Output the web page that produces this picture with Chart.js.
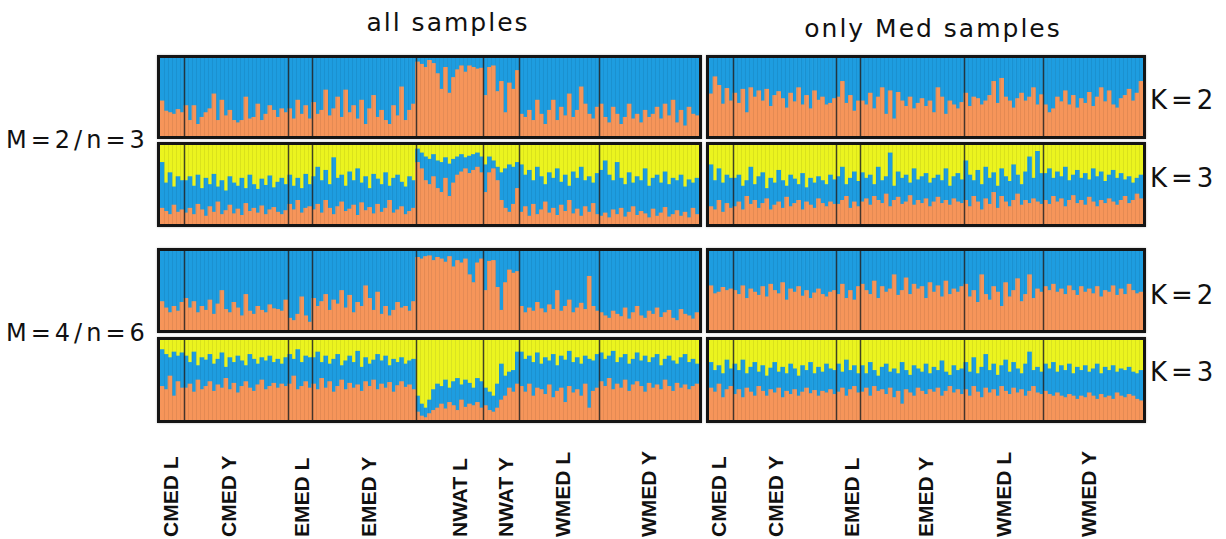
<!DOCTYPE html>
<html>
<head>
<meta charset="utf-8">
<script src="https://cdn.jsdelivr.net/npm/chart.js@4.4.0/dist/chart.umd.min.js"></script>
<style>
  body { margin: 0; background: #fff; width: 1226px; height: 539px; position: relative; overflow: hidden; font-family: "DejaVu Sans", sans-serif; color: #111; }
  .panel { position: absolute; border: 3px solid #151515; box-sizing: border-box; background: #fff; box-shadow: 0 0 2px #bbb; }
  .panel canvas { display: block; }
  .txt { position: absolute; white-space: nowrap; line-height: 1; transform: translate(0, -50%); }
  .title { font-size: 25px; letter-spacing: 2px; transform: translate(-50%, -50%); }
  .row { font-size: 24px; letter-spacing: 4px; }
  .k { font-size: 26px; letter-spacing: 4px; }
  .grp { position: absolute; font-family: "Liberation Sans", Arial, sans-serif; font-weight: bold; font-size: 21px; line-height: 21px; white-space: nowrap; transform-origin: 0 0; transform: rotate(-90deg); }
</style>
</head>
<body>
<script>
// population groups, in plotting order
const groupsAll = ['CMED L', 'CMED Y', 'EMED L', 'EMED Y', 'NWAT L', 'NWAT Y', 'WMED L', 'WMED Y'];
const groupSizesAll = [6, 26, 6, 26, 17, 9, 20, 25];
const groupsMed = ['CMED L', 'CMED Y', 'EMED L', 'EMED Y', 'WMED L', 'WMED Y'];
const groupSizesMed = [6, 26, 6, 26, 20, 25];

// ancestry proportions (%) per individual; yellow cluster = remainder
// M=2/n=3, all samples, K=2
const m2k2AllOrange = [
  45,32,30,28,34,30,
  39,20,39,15,24,30,35,54,20,46,26,33,20,17,20,50,22,24,41,20,28,39,33,24,35,30,
  35,22,46,28,39,22,
  43,28,33,59,26,35,50,24,59,30,39,22,46,15,35,52,24,33,20,15,39,26,63,20,33,41,
  95,92,88,97,93,80,60,88,55,75,85,90,82,90,88,86,87,
  52,88,90,57,70,30,68,60,84,
  28,24,33,20,46,28,15,33,46,20,37,26,54,24,33,63,41,28,22,37,
  41,24,17,37,28,15,24,41,22,28,17,33,24,28,37,22,41,26,46,17,33,13,37,28,26
];
// M=2/n=3, all samples, K=3
const m2k3AllOrange = [
  20,16,12,24,15,18,
  14,20,12,25,18,10,22,15,28,12,17,24,13,19,11,26,16,20,14,23,12,18,21,15,12,17,
  25,18,30,14,20,22,
  18,25,14,30,20,12,22,28,16,19,24,11,27,17,21,13,25,15,20,30,14,18,22,12,16,20,
  78,70,55,50,60,45,40,58,35,52,62,66,70,64,68,72,65,
  40,65,70,55,30,20,15,25,45,
  15,22,10,25,12,18,28,14,20,11,24,16,30,13,19,10,22,15,26,12,
  10,14,8,18,12,20,9,15,22,11,16,13,8,19,10,14,21,9,12,17,10,15,8,20,12
];
const m2k3AllBlue = [
  58,36,53,23,45,37,
  41,40,36,37,27,48,28,48,19,43,25,36,39,29,47,19,46,30,30,34,37,43,25,38,46,33,
  37,30,28,31,43,28,
  42,47,41,38,30,72,36,34,32,47,31,59,25,43,24,50,32,35,45,18,44,44,31,35,44,35,
  17,20,30,32,28,35,38,26,41,30,23,22,14,22,20,18,20,
  35,20,10,17,35,50,60,47,33,
  60,40,58,30,60,42,22,51,38,59,29,46,18,53,39,62,33,45,26,52,
  58,66,54,37,66,38,41,50,30,49,39,57,40,39,52,38,45,41,46,38,52,32,48,32,46
];
// M=4/n=6, all samples, K=2
const m4k2AllOrange = [
  36,28,22,30,24,35,
  40,28,36,22,30,25,38,20,33,50,26,22,35,28,18,45,24,20,30,25,22,32,27,26,24,38,
  15,12,20,42,18,10,
  40,30,36,45,25,38,33,50,28,44,22,35,30,56,40,25,48,20,30,18,25,35,28,30,24,36,
  92,90,93,94,88,92,90,86,93,80,88,85,90,70,60,85,90,
  50,87,88,54,25,60,76,72,74,
  30,22,28,24,35,27,22,32,26,50,24,30,38,22,28,34,26,68,30,24,
  22,18,15,24,20,17,28,14,22,30,18,15,24,20,28,16,22,25,15,12,26,20,18,14,22
];
// M=4/n=6, all samples, K=3
const m4k3AllOrange = [
  42,38,55,30,48,40,
  40,45,35,50,38,42,48,36,44,40,52,38,46,34,42,48,40,36,44,50,38,42,46,40,45,42,
  45,55,38,42,48,40,
  45,38,52,40,48,35,42,50,38,46,40,44,36,48,42,50,38,45,40,47,35,43,48,41,44,38,
  10,5,3,8,12,15,20,14,22,18,12,25,16,20,18,22,15,
  18,12,10,15,25,30,40,35,45,
  42,35,45,30,40,38,32,44,28,36,40,22,42,34,38,30,45,15,36,40,
  48,42,52,38,45,40,50,36,44,48,42,35,46,40,44,38,50,42,36,46,40,44,38,42,45
];
const m4k3AllBlue = [
  46,44,23,55,32,44,
  40,27,50,18,40,33,34,34,32,44,14,40,26,46,32,20,42,40,26,28,36,38,26,36,25,36,
  37,21,50,30,32,38,
  33,47,20,40,22,41,40,18,36,34,32,42,30,30,28,25,44,29,40,21,41,29,30,29,30,38,
  20,15,12,17,26,30,22,36,18,30,40,19,34,26,22,30,33,
  22,23,20,30,45,25,20,27,40,
  43,41,35,42,44,32,46,30,54,32,40,53,44,38,40,40,35,61,38,42,
  36,34,28,48,27,38,32,34,32,36,32,45,26,38,38,30,26,38,38,24,38,38,34,34,25
];

// M=2/n=3, only Med samples, K=2
const m2k2MedOrange = [
  54,76,65,41,61,45,
  55,42,60,30,62,50,58,45,60,38,52,57,48,36,55,44,62,40,52,35,58,46,50,40,42,48,
  50,70,42,52,32,45,
  45,40,55,35,50,62,28,58,22,56,45,38,50,35,42,48,38,45,30,62,50,28,45,40,35,43,
  55,38,50,48,40,45,52,70,42,74,50,45,36,48,55,45,50,62,40,53,
  40,30,35,50,44,58,40,52,36,48,42,56,38,50,62,44,58,40,36,48,52,60,45,55,70
];
// M=2/n=3, only Med samples, K=3
const m2k3MedOrange = [
  22,18,30,15,26,20,
  22,28,18,35,25,30,20,26,32,18,24,28,20,34,22,26,30,18,28,24,20,32,26,22,28,25,
  25,30,35,20,28,22,
  28,32,24,35,30,26,38,22,30,34,25,28,36,24,30,26,32,22,28,34,26,30,24,32,28,26,
  30,22,35,28,18,32,25,40,20,35,28,22,30,38,24,30,26,32,28,25,
  30,25,35,28,32,22,30,36,26,30,24,34,28,22,30,26,32,28,24,30,35,26,30,38,32
];
const m2k3MedBlue = [
  53,37,40,37,36,38,
  36,34,30,20,47,20,40,39,13,40,28,40,35,14,40,31,20,46,18,34,32,28,29,28,34,31,
  35,42,15,38,38,32,
  37,26,38,15,42,29,22,68,18,32,33,34,16,46,26,34,32,30,30,28,29,40,24,28,36,30,
  50,40,20,40,32,40,33,25,28,35,32,32,45,24,26,36,59,26,64,39,
  34,45,23,38,28,50,25,26,42,28,40,22,42,38,36,28,30,40,34,34,21,34,22,20,30
];
// M=4/n=6, only Med samples, K=2
const m4k2MedOrange = [
  56,46,48,54,50,52,
  50,45,56,40,52,48,44,55,42,58,50,46,60,38,52,48,55,43,50,40,47,52,45,42,48,50,
  45,58,40,50,38,55,
  58,50,45,62,40,55,48,52,70,44,50,66,45,58,52,55,40,60,48,56,42,62,45,52,48,55,
  58,42,50,35,70,45,38,55,48,30,60,42,50,65,36,45,70,40,52,48,
  55,50,58,48,52,45,56,50,44,55,48,52,46,55,42,50,48,56,44,52,45,58,50,46,48
];
// M=4/n=6, only Med samples, K=3
const m4k3MedOrange = [
  40,35,45,28,38,42,
  32,38,28,40,35,30,42,36,30,38,34,40,28,36,32,38,30,35,40,33,37,30,36,34,38,32,
  35,40,30,38,42,34,
  35,40,30,42,36,38,32,40,28,36,20,38,34,30,40,36,32,38,35,40,30,36,42,34,38,32,
  38,30,42,35,28,40,34,38,30,42,36,32,40,34,38,30,36,42,34,32,
  36,32,30,34,30,28,32,30,26,30,28,34,30,26,32,28,30,26,34,30,28,32,30,26,24
];
const m4k3MedBlue = [
  32,27,23,30,37,22,
  38,24,47,18,31,42,18,32,25,27,38,20,38,22,38,26,25,33,22,39,21,36,24,36,26,30,
  35,20,45,24,26,24,
  33,18,42,20,19,28,38,20,36,22,52,24,22,38,24,24,38,20,31,22,44,24,14,34,24,32,
  34,30,36,23,38,42,28,32,26,26,39,28,32,30,20,40,49,20,32,28,
  34,32,42,26,38,34,38,28,40,32,40,26,34,44,26,38,32,42,26,34,34,34,30,32,38
];

const ORANGE = '#F6955A';
const BLUE = '#1E9DE0';
const YELLOW = '#EBF41F';

// thin lines between individuals, darker ones between populations
const separators = {
  id: 'separators',
  afterDatasetsDraw(chart, args, opts) {
    const x = chart.scales.x;
    const { top, bottom } = chart.chartArea;
    const n = chart.data.labels.length;
    const bounds = new Set(opts.bounds || []);
    const ctx = chart.ctx;
    ctx.save();
    for (let i = 1; i < n; i++) {
      const px = Math.round((x.getPixelForValue(i - 1) + x.getPixelForValue(i)) / 2) + 0.5;
      ctx.beginPath();
      ctx.moveTo(px, top);
      ctx.lineTo(px, bottom);
      if (bounds.has(i)) {
        ctx.strokeStyle = 'rgba(35,35,35,0.85)';
        ctx.lineWidth = 1.5;
      } else {
        ctx.strokeStyle = 'rgba(0,0,0,0.07)';
        ctx.lineWidth = 1;
      }
      ctx.stroke();
    }
    ctx.restore();
  }
};

function boundaries(sizes) {
  const out = [];
  let sum = 0;
  sizes.slice(0, -1).forEach(s => { sum += s; out.push(sum); });
  return out;
}

function makePanel(left, top, width, height, sizes, orange, blue) {
  const div = document.createElement('div');
  div.className = 'panel';
  div.style.left = left + 'px';
  div.style.top = top + 'px';
  div.style.width = width + 'px';
  div.style.height = height + 'px';
  const canvas = document.createElement('canvas');
  canvas.width = width - 6;
  canvas.height = height - 6;
  div.appendChild(canvas);
  document.body.appendChild(div);

  const labels = orange.map((v, i) => i + 1);
  const datasets = [{ data: orange, backgroundColor: ORANGE }];
  if (blue) {
    datasets.push({ data: blue, backgroundColor: BLUE });
    datasets.push({ data: orange.map((o, i) => 100 - o - blue[i]), backgroundColor: YELLOW });
  } else {
    datasets.push({ data: orange.map(o => 100 - o), backgroundColor: BLUE });
  }
  datasets.forEach(d => {
    d.borderWidth = 0;
    d.barPercentage = 1;
    d.categoryPercentage = 1;
  });

  new Chart(canvas.getContext('2d'), {
    type: 'bar',
    data: { labels: labels, datasets: datasets },
    options: {
      responsive: false,
      animation: false,
      events: [],
      layout: { padding: 0 },
      plugins: {
        legend: { display: false },
        tooltip: { enabled: false },
        separators: { bounds: boundaries(sizes) }
      },
      scales: {
        x: { stacked: true, display: false },
        y: { stacked: true, display: false, min: 0, max: 100 }
      }
    },
    plugins: [separators]
  });
}

function addText(cls, text, left, top) {
  const el = document.createElement('div');
  el.className = 'txt ' + cls;
  el.textContent = text;
  el.style.left = left + 'px';
  el.style.top = top + 'px';
  document.body.appendChild(el);
}

function addGroupLabel(text, cx) {
  const el = document.createElement('div');
  el.className = 'grp';
  el.textContent = text;
  el.style.left = (cx - 10) + 'px';
  el.style.top = '537px';
  document.body.appendChild(el);
}

const rowTops = [55, 142, 248, 337];
const rowHeights = [84, 85, 85, 86];

makePanel(157, rowTops[0], 545, rowHeights[0], groupSizesAll, m2k2AllOrange, null);
makePanel(157, rowTops[1], 545, rowHeights[1], groupSizesAll, m2k3AllOrange, m2k3AllBlue);
makePanel(157, rowTops[2], 545, rowHeights[2], groupSizesAll, m4k2AllOrange, null);
makePanel(157, rowTops[3], 545, rowHeights[3], groupSizesAll, m4k3AllOrange, m4k3AllBlue);
makePanel(706, rowTops[0], 440, rowHeights[0], groupSizesMed, m2k2MedOrange, null);
makePanel(706, rowTops[1], 440, rowHeights[1], groupSizesMed, m2k3MedOrange, m2k3MedBlue);
makePanel(706, rowTops[2], 440, rowHeights[2], groupSizesMed, m4k2MedOrange, null);
makePanel(706, rowTops[3], 440, rowHeights[3], groupSizesMed, m4k3MedOrange, m4k3MedBlue);

addText('title', 'all samples', 448, 22);
addText('title', 'only Med samples', 933, 28);
addText('row', 'M=2/n=3', 6, 140);
addText('row', 'M=4/n=6', 6, 333);
addText('k', 'K=2', 1150, 100);
addText('k', 'K=3', 1150, 178);
addText('k', 'K=2', 1150, 295);
addText('k', 'K=3', 1150, 372);

const labelXAll = [170, 228, 301, 368, 459, 505, 562, 648];
const labelXMed = [718, 775, 851, 925, 1003, 1088];
groupsAll.forEach((g, i) => addGroupLabel(g, labelXAll[i]));
groupsMed.forEach((g, i) => addGroupLabel(g, labelXMed[i]));
</script>
</body>
</html>
